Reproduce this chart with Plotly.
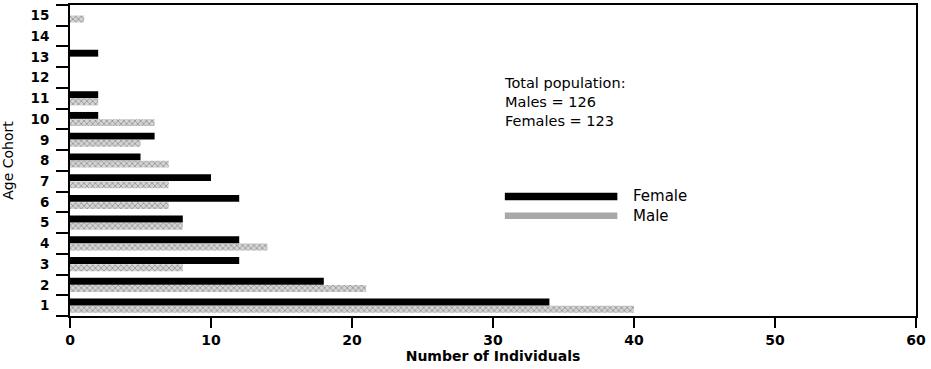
import plotly.graph_objects as go

cohorts = [str(i) for i in range(1, 16)]
female = [34, 18, 12, 12, 8, 12, 10, 5, 6, 2, 2, 0, 2, 0, 0]
male = [40, 21, 8, 14, 8, 7, 7, 7, 5, 6, 2, 0, 0, 0, 1]
x_ticks = [0, 10, 20, 30, 40, 50, 60]
total_text = "Total population:<br>Males = 126<br>Females = 123"

FONT = "DejaVu Sans"

fig = go.Figure()
fig.add_trace(go.Bar(
    y=cohorts, x=male, orientation="h", name="Male",
    marker=dict(color="#d4d4d4", line=dict(width=0),
                pattern=dict(shape="x", fgcolor="#4a4a4a", size=4, solidity=0.35)),
))
fig.add_trace(go.Bar(
    y=cohorts, x=female, orientation="h", name="Female",
    marker=dict(color="black", line=dict(width=0)),
))

fig.update_layout(
    width=931, height=369,
    margin=dict(l=70, r=15, t=5, b=53, autoexpand=False),
    paper_bgcolor="white", plot_bgcolor="white",
    barmode="group", bargap=0.30, bargroupgap=0.05,
    showlegend=False,
    font=dict(family=FONT, color="black"),
)
fig.update_xaxes(
    range=[0, 60], tickvals=x_ticks, ticktext=[str(v) for v in x_ticks],
    ticks="outside", ticklen=10, tickwidth=1.5, tickcolor="black",
    showline=True, linecolor="black", linewidth=2, mirror=True,
    showgrid=False, zeroline=False, automargin=False,
    tickfont=dict(family=FONT, size=14, color="black", weight="bold"),
    title=dict(text="<b>Number of Individuals</b>", font=dict(family=FONT, size=14), standoff=3),
)
fig.update_yaxes(
    type="category", categoryorder="array", categoryarray=cohorts,
    range=[-0.5, 14.5], tickson="boundaries",
    ticks="outside", ticklen=12, tickwidth=1.5, tickcolor="black",
    ticklabelstandoff=16,
    showline=True, linecolor="black", linewidth=2, mirror=True,
    showgrid=False, zeroline=False, automargin=False,
    tickfont=dict(family=FONT, size=13.5, color="black", weight="bold"),
    title=dict(text="Age Cohort", font=dict(family=FONT, size=14), standoff=28),
)

fig.add_annotation(
    xref="paper", yref="paper", x=0.511, y=0.78, xanchor="left", yanchor="top",
    text=total_text, showarrow=False, align="left",
    font=dict(family=FONT, size=14.5, color="black"),
)

# legend swatches
fig.add_shape(type="rect", xref="paper", yref="paper",
              x0=0.514, x1=0.647, y0=0.372, y1=0.396,
              fillcolor="black", line=dict(width=0))
fig.add_shape(type="rect", xref="paper", yref="paper",
              x0=0.514, x1=0.647, y0=0.312, y1=0.333,
              fillcolor="#a8a8a8", line=dict(width=0))
fig.add_annotation(xref="paper", yref="paper", x=0.663, y=0.385, xanchor="left", yanchor="middle",
                   text="Female", showarrow=False, font=dict(family=FONT, size=15, color="black"))
fig.add_annotation(xref="paper", yref="paper", x=0.663, y=0.323, xanchor="left", yanchor="middle",
                   text="Male", showarrow=False, font=dict(family=FONT, size=15, color="black"))

fig.write_html("out.html", config={"displayModeBar": False},
               post_script="document.body.style.margin='0';")
